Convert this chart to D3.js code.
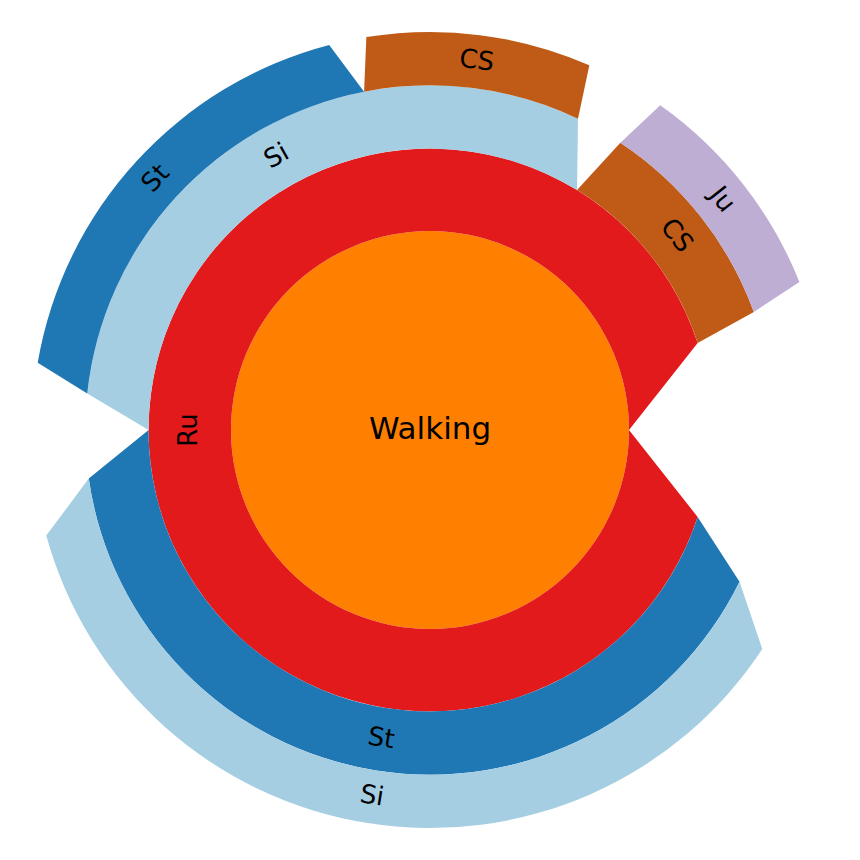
<!DOCTYPE html>
<html>
<head>
<meta charset="utf-8">
<script src="https://cdn.jsdelivr.net/npm/d3@7"></script>
<style>
  body { margin: 0; background: #fff; }
  text { font-family: "DejaVu Sans", sans-serif; fill: #000; }
</style>
</head>
<body>
<div id="chart"></div>
<script>
/* Sunburst of activity sequences starting with Walking */

const sequences = [
    ["Walking", "Ru", "CS", "Ju"],
    ["Walking", "Ru", "Si", "CS"],
    ["Walking", "Ru", "Si", "St"],
    ["Walking", "Ru", "St", "Si"]
];
const counts = [1, 1, 2, 4];

const names = ["Walking", "Ru", "St", "Si", "CS", "Ju"];
const palette = ["#ff7f00", "#e31a1c", "#1f78b4", "#a6cee3", "#bf5b17", "#beaed4"];

const height = 860,
    width = 860,
    cx = 430,
    cy = 430,
    outerRadius = 398,
    taper = 0.9; // outer arc keeps 90% of the inner arc

const svg = d3.select("#chart")
    .append("svg")
    .attr("width", width)
    .attr("height", height)
    .attr("viewBox", [0, 0, width, height]);

/* Build the tree from the sequences */
let tree = { name: sequences[0][0], children: [] };
sequences.forEach((seq, i) => {
    let node = tree;
    for (let j = 1; j < seq.length; j++) {
        let child = node.children.find(c => c.name === seq[j]);
        if (!child) {
            child = { name: seq[j], children: [] };
            node.children.push(child);
        }
        node = child;
    }
    node.value = counts[i];
});

let root = d3.hierarchy(tree)
    .sum(d => d.children.length ? 0 : d.value)
    .sort((a, b) => d3.ascending(a.data.name, b.data.name));

let levels = root.height + 1;

let r = d3.scaleSqrt()
    .domain([0, levels])
    .range([0, outerRadius]);

let color = d3.scaleOrdinal()
    .domain(names)
    .range(palette);

/* Angles: counter-clockwise from east, in radians */
function place(node, a0, a1) {
    node.a0 = a0;
    node.a1 = a1;
    if (node.depth === 0) {
        node.b0 = a0;
        node.b1 = a1;
    } else {
        let mid = (a0 + a1) / 2, half = (a1 - a0) * taper / 2;
        node.b0 = mid - half;
        node.b1 = mid + half;
    }
    if (node.children) {
        let ang = d3.scaleLinear()
            .domain([0, node.value])
            .range([node.b0, node.b1]);
        let acc = 0;
        node.children.forEach(c => {
            place(c, ang(acc), ang(acc + c.value));
            acc += c.value;
        });
    }
}
place(root, 0, 2 * Math.PI);

const pt = (rad, a) => [cx + rad * Math.cos(a), cy - rad * Math.sin(a)];

function shape(d) {
    let r0 = r(d.depth), r1 = r(d.depth + 1);
    let p = d3.path();
    if (d.depth === 0) {
        p.arc(cx, cy, r1, 0, 2 * Math.PI);
        return p.toString();
    }
    let s = pt(r0, d.a0);
    p.moveTo(s[0], s[1]);
    p.arc(cx, cy, r0, -d.a0, -d.a1, true);
    let e = pt(r1, d.b1);
    p.lineTo(e[0], e[1]);
    p.arc(cx, cy, r1, -d.b1, -d.b0, false);
    p.closePath();
    return p.toString();
}

/* Segments */
svg.append("g")
    .selectAll("path")
    .data(root.descendants())
    .join("path")
    .attr("d", shape)
    .attr("fill", d => color(d.data.name))
    .attr("stroke", "none");

/* Labels */
svg.append("g")
    .selectAll("text")
    .data(root.descendants())
    .join("text")
    .attr("text-anchor", "middle")
    .attr("dominant-baseline", "central")
    .attr("dy", "-0.07em")
    .attr("font-size", d => d.depth === 0 ? 31 : 26)
    .attr("transform", d => {
        if (d.depth === 0) return `translate(${cx},${cy})`;
        let a = (d.a0 + d.a1) / 2;
        let rm = (r(d.depth) + r(d.depth + 1)) / 2;
        let [x, y] = pt(rm, a);
        let deg = 90 - a * 180 / Math.PI;
        if (Math.sin(a) < -1e-6) deg += 180;
        return `translate(${x},${y}) rotate(${deg})`;
    })
    .text(d => d.data.name);
</script>
</body>
</html>
